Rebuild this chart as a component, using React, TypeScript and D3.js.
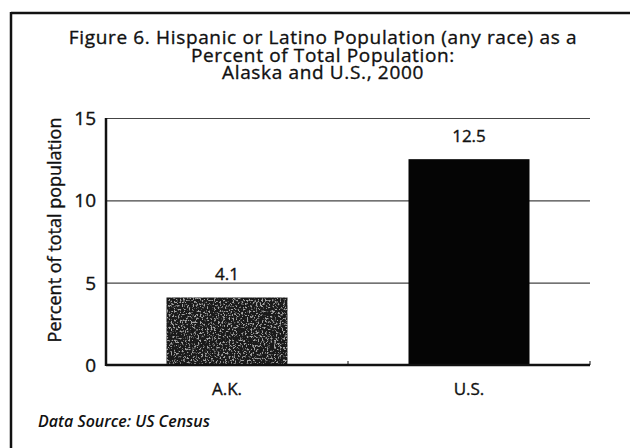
import { useEffect, useRef } from 'react'
import * as d3 from 'd3'

// Chart data
const categories = ['A.K.', 'U.S.']
const percentValues = [4.1, 12.5]
const yTicks = [0, 5, 10, 15]
const titleLines = [
  'Figure 6. Hispanic or Latino Population (any race) as a',
  'Percent of Total Population:',
  'Alaska and U.S., 2000',
]
const yAxisTitle = 'Percent of total population'
const sourceNote = 'Data Source: US Census'

const FONT = '"Open Sans", "DejaVu Sans", sans-serif'

export default function App() {
  const svgRef = useRef<SVGSVGElement>(null)

  useEffect(() => {
    if (!svgRef.current) return
    const width = 630
    const height = 448
    const margin = { top: 118, right: 40, bottom: 83, left: 106 }

    const svg = d3.select(svgRef.current)
    svg.selectAll('*').remove()

    // background + partial frame
    svg.append('rect').attr('width', width).attr('height', height).attr('fill', '#fff')
    svg.append('line')
      .attr('x1', 11).attr('x2', width).attr('y1', 13).attr('y2', 13)
      .attr('stroke', '#111').attr('stroke-width', 2.5)
    svg.append('line')
      .attr('x1', 11).attr('x2', 11).attr('y1', 12).attr('y2', height)
      .attr('stroke', '#111').attr('stroke-width', 2.5)

    // speckle texture for the first bar
    const defs = svg.append('defs')
    const filter = defs.append('filter').attr('id', 'speckle')
      .attr('x', 0).attr('y', 0).attr('width', 1).attr('height', 1)
    filter.append('feTurbulence')
      .attr('type', 'fractalNoise')
      .attr('baseFrequency', 0.55)
      .attr('numOctaves', 2)
      .attr('seed', 3)
      .attr('result', 'noise')
    filter.append('feColorMatrix')
      .attr('in', 'noise')
      .attr('type', 'matrix')
      .attr('values', '0 0 0 0 1  0 0 0 0 1  0 0 0 0 1  7 0 0 0 -3.7')
      .attr('result', 'dots')
    filter.append('feComposite')
      .attr('in', 'dots').attr('in2', 'SourceGraphic').attr('operator', 'in')

    // text helper: regular face thickened a little to match the scanned medium weight
    const addText = (x: number, y: number, str: string, size: number, anchor = 'middle') =>
      svg.append('text')
        .attr('x', x).attr('y', y)
        .attr('text-anchor', anchor)
        .style('font-family', FONT)
        .style('font-size', `${size}px`)
        .style('fill', '#111')
        .style('stroke', '#111')
        .style('stroke-width', 0.35)
        .text(str)

    // title
    const titleY = [44, 61.5, 79]
    titleLines.forEach((line, i) => {
      addText(323, titleY[i], line, 19).style('letter-spacing', '0.65px')
    })

    // scales
    const xScale = d3.scaleBand()
      .domain(categories)
      .range([margin.left, width - margin.right])
      .paddingInner(0.5)
      .paddingOuter(0.25)

    const yScale = d3.scaleLinear()
      .domain([0, 15])
      .range([height - margin.bottom, margin.top])

    // grid lines
    svg.append('g')
      .attr('transform', `translate(${margin.left}, 0)`)
      .call(d3.axisLeft(yScale)
        .tickValues(yTicks.filter(t => t > 0))
        .tickSize(-(width - margin.left - margin.right))
        .tickFormat(() => '')
      )
      .call(g => g.select('.domain').remove())
      .selectAll('line')
      .attr('stroke', '#444')
      .attr('stroke-width', 1.2)

    // bars
    categories.forEach((cat, i) => {
      const x = xScale(cat)!
      const y = yScale(percentValues[i])
      const h = yScale(0) - y
      svg.append('rect')
        .attr('x', x).attr('y', y)
        .attr('width', xScale.bandwidth()).attr('height', h)
        .attr('fill', i === 0 ? '#1a1a1a' : '#050505')
      if (i === 0) {
        svg.append('rect')
          .attr('x', x).attr('y', y)
          .attr('width', xScale.bandwidth()).attr('height', h)
          .attr('fill', '#fff')
          .attr('opacity', 0.6)
          .attr('filter', 'url(#speckle)')
      }
      addText(x + xScale.bandwidth() / 2, y - 17, percentValues[i].toFixed(1), 17)
    })

    // axes
    svg.append('line')
      .attr('x1', margin.left).attr('x2', width - margin.right)
      .attr('y1', yScale(0)).attr('y2', yScale(0))
      .attr('stroke', '#111').attr('stroke-width', 2.5)
    svg.append('line')
      .attr('x1', margin.left).attr('x2', margin.left)
      .attr('y1', yScale(15)).attr('y2', yScale(0) + 1)
      .attr('stroke', '#111').attr('stroke-width', 2.5)

    // small separator ticks on the baseline
    const midX = (xScale('A.K.')! + xScale.bandwidth() + xScale('U.S.')!) / 2
    ;[midX, width - margin.right].forEach(tx => {
      svg.append('line')
        .attr('x1', tx).attr('x2', tx)
        .attr('y1', yScale(0)).attr('y2', yScale(0) - 4)
        .attr('stroke', '#111').attr('stroke-width', 1)
    })

    // y tick labels
    yTicks.forEach(t => {
      addText(margin.left - 10, yScale(t) + 7, String(t), 19, 'end')
    })

    // x category labels
    categories.forEach(cat => {
      addText(xScale(cat)! + xScale.bandwidth() / 2, 395, cat, 17)
    })

    // y axis title
    addText(0, 0, yAxisTitle, 18)
      .attr('transform', 'translate(61, 230) rotate(-90)')

    // source note
    addText(38, 427, sourceNote, 16, 'start')
      .style('font-style', 'italic')
      .style('font-weight', 600)
      .style('stroke-width', 0)
  }, [])

  return (
    <div style={{ position: 'fixed', left: 0, top: 0, width: 630, height: 448 }}>
      <svg ref={svgRef} width={630} height={448} style={{ display: 'block' }} />
    </div>
  )
}
